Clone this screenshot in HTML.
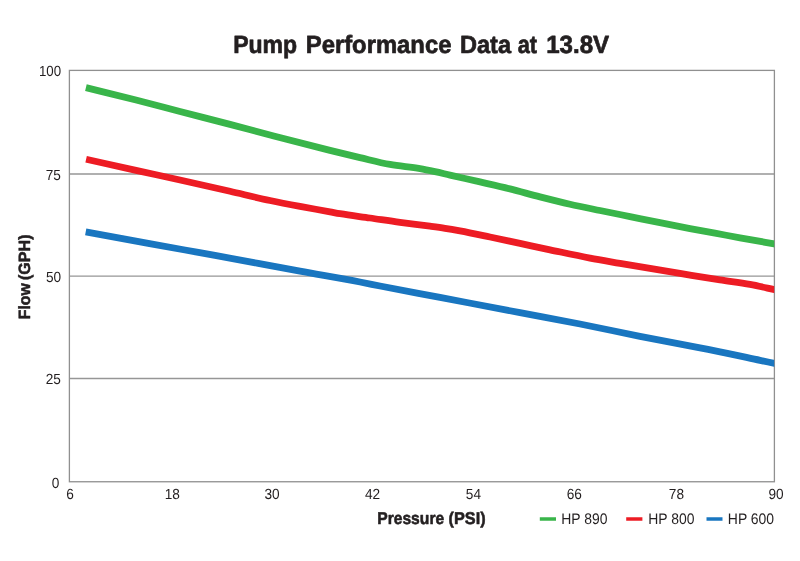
<!DOCTYPE html>
<html>
<head>
<meta charset="utf-8">
<title>Pump Performance Data at 13.8V</title>
<style>
html,body{margin:0;padding:0;background:#fff;}
body{width:800px;height:561px;overflow:hidden;}
svg{display:block;will-change:transform;}
text{font-family:"Liberation Sans",sans-serif;text-rendering:geometricPrecision;}
.tick{font-size:14.7px;fill:#231f20;}
.bold{font-weight:bold;fill:#231f20;}
</style>
</head>
<body>
<svg width="800" height="561" viewBox="0 0 800 561">
  <rect x="0" y="0" width="800" height="561" fill="#ffffff"/>

  <!-- title -->
  <g id="title" class="bold" font-size="24.9" stroke="#231f20" stroke-width="0.7" stroke-linejoin="round">
    <text x="233.2" y="52.7" textLength="64" lengthAdjust="spacingAndGlyphs">Pump</text>
    <text x="305.8" y="52.7" textLength="145.6" lengthAdjust="spacingAndGlyphs">Performance</text>
    <text x="460" y="52.7" textLength="51" lengthAdjust="spacingAndGlyphs">Data</text>
    <text x="517.7" y="52.7" textLength="19.3" lengthAdjust="spacingAndGlyphs">at</text>
    <text x="546.2" y="52.7" textLength="63" lengthAdjust="spacingAndGlyphs">13.8V</text>
  </g>

  <!-- gridlines -->
  <g stroke="#969696" stroke-width="1.3" fill="none">
    <line x1="69.4" y1="174" x2="774.4" y2="174"/>
    <line x1="69.4" y1="276.2" x2="774.4" y2="276.2"/>
    <line x1="69.4" y1="378.5" x2="774.4" y2="378.5"/>
  </g>

  <!-- frame -->
  <rect x="69.4" y="70.4" width="705" height="411.35" fill="none" stroke="#909090" stroke-width="1.3"/>

  <!-- data lines -->
  <clipPath id="plotclip"><rect x="69" y="60" width="705.2" height="430"/></clipPath>
  <g clip-path="url(#plotclip)" fill="none" stroke-width="6.8" stroke-linejoin="round" stroke-linecap="butt">
    <path id="blue" stroke="#1976c0" d="M85.70,231.80 C102.47,234.90 119.23,238.03 136.00,241.10 C152.33,244.09 168.67,247.05 185.00,250.00 C195.00,251.81 205.00,253.58 215.00,255.40 C243.33,260.57 271.67,266.02 300.00,271.20 C320.00,274.85 340.00,278.18 360.00,282.00 C366.67,283.27 373.33,284.70 380.00,286.00 C400.00,289.91 420.00,293.59 440.00,297.40 C466.67,302.48 493.33,307.64 520.00,312.70 C540.00,316.49 560.00,320.07 580.00,324.00 C600.00,327.93 620.00,332.32 640.00,336.30 C660.00,340.28 680.00,344.01 700.00,347.90 C706.67,349.20 713.33,350.45 720.00,351.80 C733.33,354.50 746.67,357.47 760.00,360.30 C765.33,361.43 770.67,362.57 776.00,363.70"/>
    <path id="red" stroke="#ed1c24" d="M86.10,159.30 C102.73,163.00 119.37,166.74 136.00,170.40 C150.67,173.63 165.33,176.74 180.00,180.00 C196.67,183.70 213.33,187.50 230.00,191.30 C243.33,194.34 256.67,197.68 270.00,200.50 C280.00,202.61 290.00,204.52 300.00,206.40 C310.00,208.28 320.00,209.94 330.00,211.80 C333.33,212.42 336.67,213.14 340.00,213.70 C350.00,215.37 360.00,216.55 370.00,218.00 C380.00,219.45 390.00,221.04 400.00,222.40 C410.00,223.76 420.00,224.86 430.00,226.20 C435.00,226.87 440.00,227.53 445.00,228.30 C450.00,229.07 455.00,229.97 460.00,230.90 C470.00,232.75 480.00,234.92 490.00,237.00 C500.00,239.08 510.00,241.27 520.00,243.40 C530.00,245.53 540.00,247.69 550.00,249.80 C563.33,252.61 576.67,255.59 590.00,258.10 C600.00,259.98 610.00,261.58 620.00,263.30 C630.00,265.02 640.00,266.72 650.00,268.40 C660.00,270.08 670.00,271.75 680.00,273.40 C693.33,275.60 706.67,277.82 720.00,279.90 C730.00,281.46 740.00,282.62 750.00,284.40 C758.67,285.94 767.33,288.13 776.00,290.00"/>
    <path id="green" stroke="#39b54a" d="M85.90,87.65 C102.60,91.77 119.30,95.76 136.00,100.00 C150.67,103.72 165.33,107.69 180.00,111.50 C196.67,115.83 213.33,120.04 230.00,124.40 C243.33,127.89 256.67,131.52 270.00,135.00 C290.00,140.22 310.00,145.46 330.00,150.40 C340.00,152.87 350.00,155.27 360.00,157.60 C370.00,159.93 380.00,162.67 390.00,164.40 C400.00,166.13 410.00,166.92 420.00,168.60 C425.00,169.44 430.00,170.52 435.00,171.60 C440.00,172.68 445.00,173.95 450.00,175.10 C460.00,177.40 470.00,179.60 480.00,181.90 C490.00,184.20 500.00,186.41 510.00,188.90 C520.00,191.39 530.00,194.36 540.00,196.90 C550.00,199.44 560.00,201.95 570.00,204.20 C580.00,206.45 590.00,208.43 600.00,210.50 C610.00,212.57 620.00,214.57 630.00,216.60 C640.00,218.63 650.00,220.70 660.00,222.70 C670.00,224.70 680.00,226.70 690.00,228.60 C698.33,230.18 706.67,231.67 715.00,233.20 C723.33,234.73 731.67,236.29 740.00,237.80 C752.00,239.97 764.00,242.07 776.00,244.20"/>
  </g>

  <!-- y tick labels -->
  <g class="tick" text-anchor="end">
    <text x="61.1" y="75.5" textLength="22.2" lengthAdjust="spacingAndGlyphs">100</text>
    <text x="60.9" y="179.7" textLength="15.2" lengthAdjust="spacingAndGlyphs">75</text>
    <text x="61.1" y="281.5" textLength="15.2" lengthAdjust="spacingAndGlyphs">50</text>
    <text x="60.9" y="384.0" textLength="15.2" lengthAdjust="spacingAndGlyphs">25</text>
    <text x="59.4" y="487.5" textLength="7.6" lengthAdjust="spacingAndGlyphs">0</text>
  </g>

  <!-- x tick labels -->
  <g class="tick" text-anchor="middle">
    <text x="70.0" y="499.2" textLength="7.6" lengthAdjust="spacingAndGlyphs">6</text>
    <text x="172.3" y="499.2" textLength="15.2" lengthAdjust="spacingAndGlyphs">18</text>
    <text x="272.1" y="499.2" textLength="15.2" lengthAdjust="spacingAndGlyphs">30</text>
    <text x="372.6" y="499.2" textLength="15.2" lengthAdjust="spacingAndGlyphs">42</text>
    <text x="473.4" y="499.2" textLength="15.2" lengthAdjust="spacingAndGlyphs">54</text>
    <text x="574.3" y="499.2" textLength="15.2" lengthAdjust="spacingAndGlyphs">66</text>
    <text x="676.4" y="499.2" textLength="15.2" lengthAdjust="spacingAndGlyphs">78</text>
    <text x="776.0" y="499.2" textLength="15.2" lengthAdjust="spacingAndGlyphs">90</text>
  </g>

  <!-- axis titles -->
  <g id="xl" class="bold" font-size="17" stroke="#231f20" stroke-width="0.55" stroke-linejoin="round">
    <text x="377.2" y="524.3" textLength="67" lengthAdjust="spacingAndGlyphs">Pressure</text>
    <text x="448.6" y="524.3" textLength="37" lengthAdjust="spacingAndGlyphs">(PSI)</text>
  </g>
  <g id="yl" class="bold" font-size="16.3" stroke="#231f20" stroke-width="0.55" stroke-linejoin="round" transform="translate(29.7,0) rotate(-90)">
    <text x="-319.2" y="0" textLength="36" lengthAdjust="spacingAndGlyphs">Flow</text>
    <text x="-280" y="0" textLength="45.5" lengthAdjust="spacingAndGlyphs">(GPH)</text>
  </g>

  <!-- legend -->
  <g stroke-width="3.5" stroke-linecap="butt">
    <line x1="539.8" y1="519" x2="556" y2="519" stroke="#39b54a"/>
    <line x1="626.2" y1="519" x2="642.4" y2="519" stroke="#ed1c24"/>
    <line x1="706.5" y1="519" x2="722.5" y2="519" stroke="#1976c0"/>
  </g>
  <g class="tick" style="font-size:15.3px">
    <text x="561.2" y="523.5" textLength="46.2" lengthAdjust="spacingAndGlyphs">HP 890</text>
    <text x="648.2" y="523.5" textLength="46.2" lengthAdjust="spacingAndGlyphs">HP 800</text>
    <text x="727.8" y="523.5" textLength="46.3" lengthAdjust="spacingAndGlyphs">HP 600</text>
  </g>
</svg>
</body>
</html>
